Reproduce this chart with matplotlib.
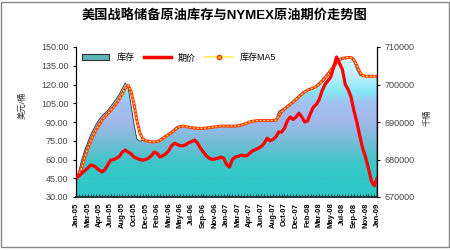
import numpy as np
import matplotlib
matplotlib.use("Agg")
import matplotlib.pyplot as plt
from matplotlib.colors import LinearSegmentedColormap
from matplotlib.patches import Rectangle, Patch
from matplotlib.lines import Line2D

plt.rcParams['font.family'] = ['Liberation Sans', 'Noto Sans CJK SC', 'DejaVu Sans']

title = "美国战略储备原油库存与NYMEX原油期价走势图"

month_labels = ["Jan-05", "Mar-05", "Apr-05", "Jun-05", "Aug-05", "Oct-05", "Dec-05",
                "Feb-06", "Mar-06", "May-06", "Jul-06", "Sep-06", "Nov-06",
                "Jan-07", "Mar-07", "Apr-07", "Jun-07", "Aug-07", "Oct-07", "Dec-07",
                "Feb-08", "Mar-08", "May-08", "Jul-08", "Sep-08", "Nov-08", "Jan-09"]

# SPR stock, thousand barrels (read every 2 weeks)
stock = [674500, 677000, 680000, 682500, 684500, 686500, 688000, 689500, 690700, 691700,
         692400, 693200, 694200, 695200, 696300, 697500, 699000, 700400, 699000, 694500,
         689500, 685500, 684900, 685100, 684900, 684700, 684600, 684700, 684900, 685400,
         686000, 686500, 687000, 687500, 688300, 688800, 688900, 688900, 688700, 688500,
         688400, 688300, 688300, 688300, 688400, 688400, 688500, 688600, 688800, 688900,
         688900, 688900, 688900, 688900, 689000, 689000, 689100, 689300, 689600, 689900,
         690200, 690300, 690400, 690400, 690400, 690400, 690500, 690500, 690500, 690600,
         692800, 693300, 693800, 694400, 695000, 695700, 696400, 697100, 697800, 698300,
         698700, 699000, 699300, 699800, 700500, 701300, 702200, 703200, 704200, 705300,
         706300, 706900, 707100, 707200, 707300, 707200, 706000, 704000, 702500, 702200,
         702200, 702200, 702200, 702200, 702200]

stock_ma5 = [674500, 675800, 678000, 680500, 682800, 684800, 686500, 688000, 689300, 690500,
             691400, 692300, 693100, 694000, 695000, 696200, 697500, 699000, 699800, 698200,
             694800, 690500, 687200, 685500, 685000, 684900, 684700, 684700, 684800, 685100,
             685600, 686200, 686700, 687200, 687800, 688500, 688800, 688900, 688800, 688600,
             688500, 688400, 688300, 688300, 688300, 688400, 688500, 688600, 688700, 688800,
             688900, 688900, 688900, 688900, 688900, 688900, 689000, 689200, 689400, 689700,
             690000, 690200, 690300, 690400, 690400, 690400, 690400, 690400, 690400, 690500,
             691500, 692700, 693500, 694100, 694700, 695300, 696000, 696700, 697400, 698000,
             698500, 698800, 699100, 699500, 700100, 700900, 701700, 702700, 703700, 704700,
             705800, 706600, 707000, 707100, 707200, 707200, 706600, 705000, 703300, 702400,
             702200, 702200, 702200, 702200, 702200]

# NYMEX crude price, USD/bbl
price = [46, 47, 49, 51, 53, 55.5, 55, 53.5, 51.5, 50,
         52, 56, 59.5, 60, 61, 62.5, 66, 67.5, 66, 64.5,
         62, 61, 60, 59.5, 60, 61, 63, 66, 65, 62,
         63, 64.5, 67, 71, 73, 72, 71, 71, 72, 73.5,
         74.5, 75.5, 73, 69, 66, 63, 61, 60, 60.5, 61,
         62, 61, 56, 54, 60, 62, 62.5, 63.5, 63, 63,
         65, 67, 68, 69, 70.5, 73, 77, 75, 76, 78,
         82, 82, 85, 91, 94, 92, 94, 97, 94, 90,
         91, 97, 102, 104, 108, 115, 120, 123, 126, 134,
         142, 137, 132, 120, 116, 110, 99, 90, 79, 69,
         62, 53, 43, 39, 45]

n = len(stock)
x = np.arange(n)

fig = plt.figure(figsize=(4.5, 2.5), dpi=100)
ax = fig.add_axes([0.169, 0.212, 0.669, 0.6])
ax2 = ax.twinx()
ax.set_zorder(ax2.get_zorder() + 1)
ax.patch.set_visible(False)

# stock area with vertical gradient
area = ax2.fill_between(x, 670000, stock, facecolor='none', edgecolor='#203838', linewidth=0.6, zorder=2)
grad = LinearSegmentedColormap.from_list('grad', [
    (0.0, '#2CC8C8'), (0.22, '#3AC6C8'), (0.36, '#74BDD6'), (0.5, '#A2B9EA'),
    (0.63, '#A0C2F2'), (0.7, '#84E6F6'), (0.8, '#BCEFFA'), (1.0, '#EAFAFD')])
img = ax2.imshow(np.linspace(0, 1, 256).reshape(-1, 1), cmap=grad, origin='lower',
                 aspect='auto', extent=[0, n - 1, 670000, 710000], zorder=1)
img.set_clip_path(area.get_paths()[0], transform=ax2.transData)

# MA5: red-orange body with yellow dotted core
ax2.plot(x, stock_ma5, color='#FF3A10', lw=2.2, zorder=3)
ax2.plot(x, stock_ma5, color='#FFE640', lw=0.9, ls=(0, (1.5, 1.5)), zorder=3.1)
ax.plot(x, price, color='#FF0000', lw=2.3, zorder=4)

ax.set_xlim(0, n - 1)
ax2.set_xlim(0, n - 1)
ax.set_ylim(30, 150)
ax2.set_ylim(670000, 710000)

ax.set_yticks(np.arange(30, 151, 15))
ax.set_yticklabels(["%.2f" % v for v in np.arange(30, 151, 15)])
ax2.set_yticks(np.arange(670000, 710001, 10000))
ax2.set_yticklabels([str(v) for v in range(670000, 710001, 10000)])

ax.set_xticks(np.arange(0, n, 4))
ax.set_xticklabels(month_labels, rotation=90, fontsize=5.5, fontweight='bold')
ax.set_xticks(x, minor=True)
ax.tick_params(axis='x', which='both', direction='in', length=2, pad=4, color='#203838')
ax.tick_params(axis='y', labelsize=6.5, labelcolor='#444444', length=2, direction='out')
ax2.tick_params(axis='y', labelsize=6.5, labelcolor='#444444', length=2, direction='out')

for a in (ax, ax2):
    a.spines['top'].set_visible(False)
    a.spines['left'].set_color('black')
    a.spines['right'].set_color('black')
    a.spines['bottom'].set_color('#203838')
    a.spines['bottom'].set_linewidth(1.2)

# watermark
ax2.text(0.5, 0.68, "CIEC", transform=ax2.transAxes, color='white', alpha=0.6,
         fontsize=36, fontweight='bold', ha='center', va='center', zorder=2.5)

handles = [Patch(facecolor='#5FB8B8', edgecolor='#333333', linewidth=0.8),
           Line2D([0], [0], color='#FF0000', lw=2.5),
           Line2D([0], [0], color='#FFF070', lw=1.5, marker='o', ms=3,
                  mfc='#FFD700', mec='#FF3000')]
ax.legend(handles, ["库存", "期价", "库存MA5"], loc='upper left', ncol=3,
          frameon=False, fontsize=6.5, handlelength=3, columnspacing=1.0,
          bbox_to_anchor=(0.0, 1.0), borderaxespad=0.3)

fig.text(0.5, 0.935, title, ha='center', va='center', fontsize=9.5, fontweight='bold')
fig.text(0.049, 0.58, "美元/桶", rotation=90, ha='center', va='center', fontsize=6, color='#333333')
fig.text(0.95, 0.53, "千桶", rotation=90, ha='center', va='center', fontsize=6, color='#333333')

fig.patches.append(Rectangle((0.003, 0.012), 0.994, 0.982, transform=fig.transFigure,
                             fill=False, edgecolor='#888888', linewidth=1.0))

fig.savefig("out.png", dpi=100)
